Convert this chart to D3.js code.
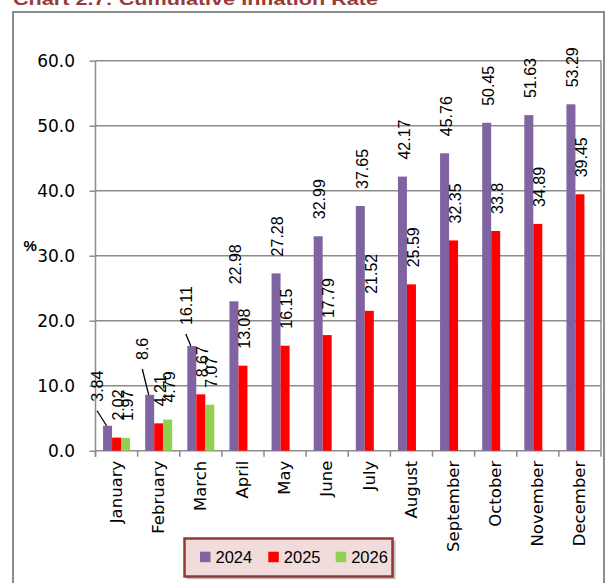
<!DOCTYPE html>
<html>
<head>
<meta charset="utf-8">
<script src="https://cdn.jsdelivr.net/npm/d3@7"></script>
<style>
  body{margin:0;background:#fff;}
  svg{display:block;}
</style>
</head>
<body>
<div id="chart"></div>
<script>
// chart data
const months=["January","February","March","April","May","June",
              "July","August","September","October","November","December"];
const seriesNames=["2024","2025","2026"];
const values2024=[3.84,8.6,16.11,22.98,27.28,32.99,37.65,42.17,45.76,50.45,51.63,53.29];
const values2025=[2.02,4.21,8.67,13.08,16.15,17.79,21.52,25.59,32.35,33.8,34.89,39.45];
const values2026=[1.97,4.79,7.07];
const yTicks=[0,10,20,30,40,50,60];
const colors=["#8064A2","#FF0000","#92D050"];

const width=609, height=583;
const gray="#8c8c8c";

const svg=d3.select("#chart").append("svg")
    .attr("width",width).attr("height",height);

// title (mostly cut off at the top)
svg.append("text")
    .attr("x",13).attr("y",5)
    .attr("font-family","Liberation Sans").attr("font-weight","bold")
    .attr("font-size",17).attr("fill","#983B38")
    .attr("textLength",365).attr("lengthAdjust","spacingAndGlyphs")
    .text("Chart 2.7: Cumulative Inflation Rate");

// outer frame
svg.append("rect")
    .attr("x",13).attr("y",12).attr("width",591).attr("height",620)
    .attr("fill","none").attr("stroke",gray).attr("stroke-width",2);

const x0=d3.scaleBand().domain(months).range([95.5,601]).paddingInner(0).paddingOuter(0);
const po=(x0.bandwidth()/9-3)/2;
const x1=d3.scaleBand().domain(seriesNames).range([0,x0.bandwidth()]).paddingInner(0).paddingOuter(po);
const y=d3.scaleLinear().domain([0,60]).range([450.7,60.7]);

// gridlines
svg.append("g").selectAll("line").data(yTicks.filter(v=>v>0)).enter().append("line")
    .attr("x1",95.5).attr("x2",601)
    .attr("y1",d=>y(d)).attr("y2",d=>y(d))
    .attr("stroke",gray).attr("stroke-width",1.5);
// right border of plot
svg.append("line").attr("x1",601).attr("x2",601).attr("y1",y(60)).attr("y2",y(0))
    .attr("stroke",gray).attr("stroke-width",1.5);

// y axis
const yAxis=d3.axisLeft(y).tickValues(yTicks).tickFormat(d3.format(".1f"))
    .tickSize(6).tickPadding(14.5);
const gy=svg.append("g").attr("transform","translate(95.5,0)").call(yAxis);
gy.select(".domain").attr("stroke",gray).attr("stroke-width",1.5).attr("d","M0,"+y(60)+"V"+(y(0)+6));
gy.selectAll(".tick line").attr("stroke",gray).attr("stroke-width",1.5);
gy.selectAll(".tick text").attr("font-family","DejaVu Sans").attr("font-size",17).attr("fill","#000");

// "%" label
svg.append("text").attr("x",23.5).attr("y",250.5)
    .attr("font-family","Liberation Sans").attr("font-weight","bold")
    .attr("font-size",15).text("%");

// x axis
const xAxis=d3.axisBottom(x0).tickSize(0).tickPadding(0);
const gx=svg.append("g").attr("transform","translate(0,"+y(0)+")").call(xAxis);
gx.select(".domain").attr("stroke",gray).attr("stroke-width",1.5).attr("d","M95.5,0H601");
gx.selectAll(".tick text")
    .attr("font-family","DejaVu Sans").attr("font-size",16.5).attr("fill","#000")
    .attr("text-anchor","end")
    .attr("transform","translate(0,10) rotate(-90)")
    .attr("x",0).attr("y",0).attr("dy","0.32em");
// boundary ticks
const bounds=months.map(m=>x0(m)).concat([x0(months[months.length-1])+x0.bandwidth()]);
svg.append("g").selectAll("line").data(bounds).enter().append("line")
    .attr("x1",d=>d).attr("x2",d=>d).attr("y1",y(0)).attr("y2",y(0)+6)
    .attr("stroke",gray).attr("stroke-width",1.5);

// bars
const series=[values2024,values2025,values2026];
const barData=[];
series.forEach((vals,si)=>{
    vals.forEach((v,i)=>barData.push({s:si,name:seriesNames[si],month:months[i],i:i,v:v}));
});
svg.append("g").selectAll("rect").data(barData).enter().append("rect")
    .attr("x",d=>x0(d.month)+x1(d.name))
    .attr("y",d=>y(d.v))
    .attr("width",x1.bandwidth())
    .attr("height",d=>y(0)-y(d.v))
    .attr("fill",d=>colors[d.s]);

// data labels; a few 2024 labels are pulled aside with a leader line
const moved={"0-0":[-11.8,-7],"0-1":[-8.7,-17.8],"0-2":[-7.3,-4]};
const gl=svg.append("g");
barData.forEach(d=>{
    const cx=x0(d.month)+x1(d.name)+x1.bandwidth()/2;
    const top=y(d.v);
    let lx=cx+1.5, ly=top-17;
    const m=moved[d.s+"-"+d.i];
    if(m){
        lx+=m[0]; ly+=m[1];
        gl.append("line")
            .attr("x1",lx+5.8-6).attr("y1",ly+9)
            .attr("x2",cx-1).attr("y2",top)
            .attr("stroke","#000").attr("stroke-width",1.3);
    }
    gl.append("text")
        .attr("transform","translate("+lx+","+ly+") rotate(-90)")
        .attr("dy","0.36em")
        .attr("font-family","Liberation Sans").attr("font-size",16)
        .attr("fill","#000")
        .text(d.v);
});

// legend
const lg=svg.append("g");
lg.append("rect").attr("x",186.5).attr("y",540.5).attr("width",209).attr("height",38.7)
    .attr("fill","#bfbfbf");
lg.append("rect").attr("x",184.5).attr("y",538.5).attr("width",208).attr("height",38)
    .attr("fill","#F2DCDB").attr("stroke","#953735").attr("stroke-width",2.5);
const legX=[200,268.3,335.7];
seriesNames.forEach((n,i)=>{
    lg.append("rect").attr("x",legX[i]).attr("y",551.7).attr("width",10.5).attr("height",10.5)
        .attr("fill",colors[i]);
    lg.append("text").attr("x",legX[i]+15.5).attr("y",563.3)
        .attr("font-family","Liberation Sans").attr("font-size",16.5).attr("fill","#000")
        .text(n);
});
</script>
</body>
</html>
